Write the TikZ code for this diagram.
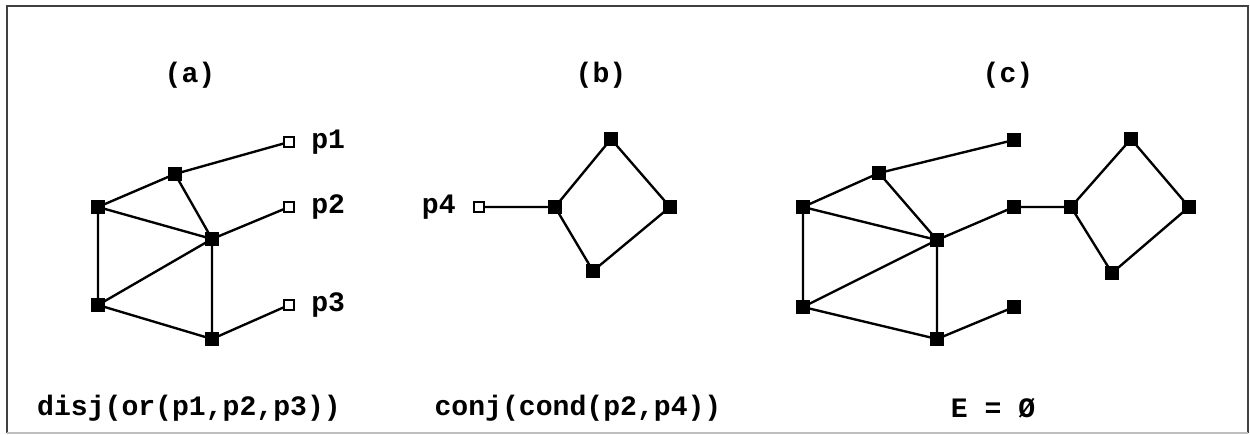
\documentclass[tikz,border=0pt]{standalone}
\usepackage{fontspec}
\setmainfont{Liberation Mono}
\begin{document}
\begin{tikzpicture}[x=0.02cm,y=-0.02cm,
  full/.style={draw=black,fill=black,minimum size=12.5*0.02cm,inner sep=0pt,outer sep=0pt},
  open/.style={draw=black,fill=white,line width=0.8pt,minimum size=10*0.02cm,inner sep=0pt,outer sep=0pt},
  edge/.style={line width=1.35pt,black},
  lbl/.style={font=\fontsize{16}{18}\selectfont\bfseries,inner sep=0pt},
]
\useasboundingbox (0,0) rectangle (1250,435);
\fill[white] (0,0) rectangle (1250,435);
\draw[line width=1.1pt,black!75] (7,433) -- (7,6) -- (1248,6) -- (1248,433);
\draw[line width=0.6pt,black!25] (7,433) -- (1248,433);

% titles
\node[lbl] (ta) at (190,75) {(a)};
\node[lbl] (tb) at (601,75) {(b)};
\node[lbl] (tc) at (1008,75) {(c)};

% (a)
\node[full] (a1) at (175,174) {};
\node[full] (a2) at (98,207) {};
\node[full] (a3) at (212,239) {};
\node[full] (a4) at (98,305) {};
\node[full] (a5) at (212,339) {};
\node[open] (p1) at (289,142) {};
\node[open] (p2) at (289,207) {};
\node[open] (p3) at (289,305) {};
\node[lbl,anchor=west] (lp1) at (311,142) {p1};
\node[lbl,anchor=west] (lp2) at (311,207) {p2};
\node[lbl,anchor=west] (lp3) at (311,305) {p3};
\draw[edge] (a2) -- (a1) (a1) -- (p1) (a1) -- (a3) (a2) -- (a3) (a3) -- (p2)
  (a2) -- (a4) (a4) -- (a3) (a3) -- (a5) (a4) -- (a5) (a5) -- (p3);

% (b)
\node[full] (b1) at (611,139) {};
\node[full] (b2) at (555,207) {};
\node[full] (b3) at (670,207) {};
\node[full] (b4) at (593,271) {};
\node[open] (p4) at (479,207) {};
\node[lbl,anchor=east] (lp4) at (456,207) {p4};
\draw[edge] (p4) -- (b2) (b2) -- (b1) (b1) -- (b3) (b3) -- (b4) (b4) -- (b2);

% (c)
\node[full] (c1) at (879,173) {};
\node[full] (c2) at (803,207) {};
\node[full] (c3) at (937,240) {};
\node[full] (c4) at (803,307) {};
\node[full] (c5) at (937,339) {};
\node[full] (q1) at (1014,140) {};
\node[full] (q2) at (1014,207) {};
\node[full] (q3) at (1014,307) {};
\node[full] (d1) at (1131,139) {};
\node[full] (d2) at (1071,207) {};
\node[full] (d3) at (1189,207) {};
\node[full] (d4) at (1112,273) {};
\draw[edge] (c2) -- (c1) (c1) -- (q1) (c1) -- (c3) (c2) -- (c3) (c3) -- (q2)
  (c2) -- (c4) (c4) -- (c3) (c3) -- (c5) (c4) -- (c5) (c5) -- (q3)
  (q2) -- (d2) (d2) -- (d1) (d1) -- (d3) (d3) -- (d4) (d4) -- (d2);

% formulas
\node[lbl] (fa) at (189,408) {disj(or(p1,p2,p3))};
\node[lbl] (fb) at (578,408) {conj(cond(p2,p4))};
\node[lbl] (fc) at (993,408) {E = Ø};
\end{tikzpicture}
\end{document}
